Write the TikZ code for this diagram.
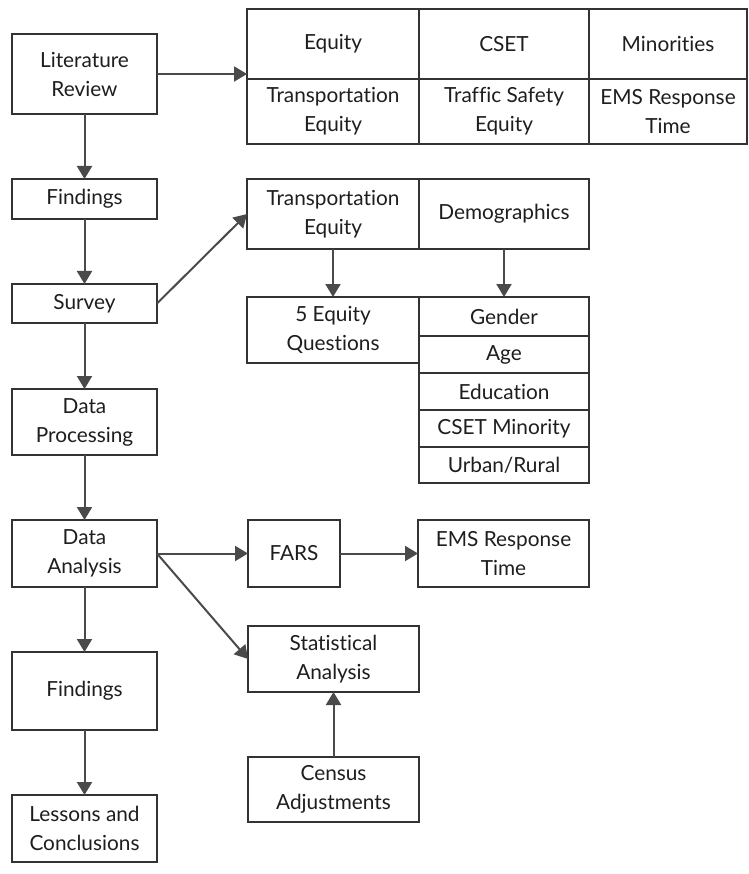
\documentclass[tikz,border=0pt]{standalone}
\usepackage{fontspec}
\setmainfont{Lato}[Ligatures=NoCommon]
\usetikzlibrary{arrows.meta}
\definecolor{boxline}{HTML}{333333}
\definecolor{arrline}{HTML}{4A4A4A}
\definecolor{txt}{HTML}{1E1E1E}
\begin{document}
\begin{tikzpicture}[x=1pt,y=-1pt,
  cell/.style={draw=boxline,line width=2pt,fill=white,inner sep=0pt,outer sep=0pt,
    align=center,text=txt,font=\fontsize{20.8}{29}\selectfont,
    minimum width=#1},
  cell/.default=145pt,
  conn/.style={draw=arrline,line width=2pt,-{Triangle[width=15pt,length=13pt]}},
]
\useasboundingbox (0,0) rectangle (748,874);
% left column
\node[cell, minimum height=80pt] (lit) at (84.5,74) {Literature\\Review};
\node[cell, minimum height=40pt] (f1) at (84.5,199) {Findings};
\node[cell, minimum height=39pt] (survey) at (84.5,303.5) {Survey};
\node[cell, minimum height=66pt] (dp) at (84.5,422) {Data\\Processing};
\node[cell, minimum height=67pt] (da) at (84.5,553.5) {Data\\Analysis};
\node[cell, minimum height=78pt] (f2) at (84.5,691) {Findings};
\node[cell, minimum height=67pt] (lc) at (84.5,828.5) {Lessons and\\Conclusions};
% top grid
\node[cell=172pt, minimum height=70pt] (eq) at (333,44) {Equity};
\node[cell=170pt, minimum height=70pt] (cset) at (504,44) {CSET};
\node[cell=158pt, minimum height=70pt] (min) at (668,44) {Minorities};
\node[cell=172pt, minimum height=65pt] (te1) at (333,111.5) {Transportation\\Equity};
\node[cell=170pt, minimum height=65pt] (tse) at (504,111.5) {Traffic Safety\\Equity};
\node[cell=158pt, minimum height=65pt] (ems1) at (668,111.5) {EMS Response\\Time};
% survey branch
\node[cell=172pt, minimum height=70pt] (te2) at (333,214) {Transportation\\Equity};
\node[cell=170pt, minimum height=70pt] (demo) at (504,214) {Demographics};
\node[cell=172pt, minimum height=66pt] (q5) at (333,330) {5 Equity\\Questions};
\node[cell=170pt, minimum height=39pt] (gender) at (504,316.5) {Gender};
\node[cell=170pt, minimum height=37pt] (age) at (504,354.5) {Age};
\node[cell=170pt, minimum height=37pt] (edu) at (504,391.5) {Education};
\node[cell=170pt, minimum height=37pt] (csetm) at (504,428.5) {CSET Minority};
\node[cell=170pt, minimum height=36pt] (urban) at (504,465) {Urban/Rural};
% analysis branch
\node[cell=92pt, minimum height=67pt] (fars) at (294,553.5) {FARS};
\node[cell=171pt, minimum height=67pt] (ems2) at (503.5,553.5) {EMS Response\\Time};
\node[cell=171pt, minimum height=66pt] (stat) at (333.5,659) {Statistical\\Analysis};
\node[cell=171pt, minimum height=65pt] (census) at (333.5,789.5) {Census\\Adjustments};
% connectors
\draw[conn] (lit.east) -- (lit.east -| eq.west);
\draw[conn] (lit.south) -- (f1.north);
\draw[conn] (f1.south) -- (survey.north);
\draw[conn] (survey.south) -- (dp.north);
\draw[conn] (dp.south) -- (da.north);
\draw[conn] (da.south) -- (f2.north);
\draw[conn] (f2.south) -- (lc.north);
\draw[conn] (survey.east) -- (te2.west);
\draw[conn] (te2.south) -- (q5.north);
\draw[conn] (demo.south) -- (gender.north);
\draw[conn] (da.east) -- (fars.west);
\draw[conn] (fars.east) -- (ems2.west);
\draw[conn] (da.east) -- (stat.west);
\draw[conn] (census.north) -- (stat.south);
\end{tikzpicture}
\end{document}
